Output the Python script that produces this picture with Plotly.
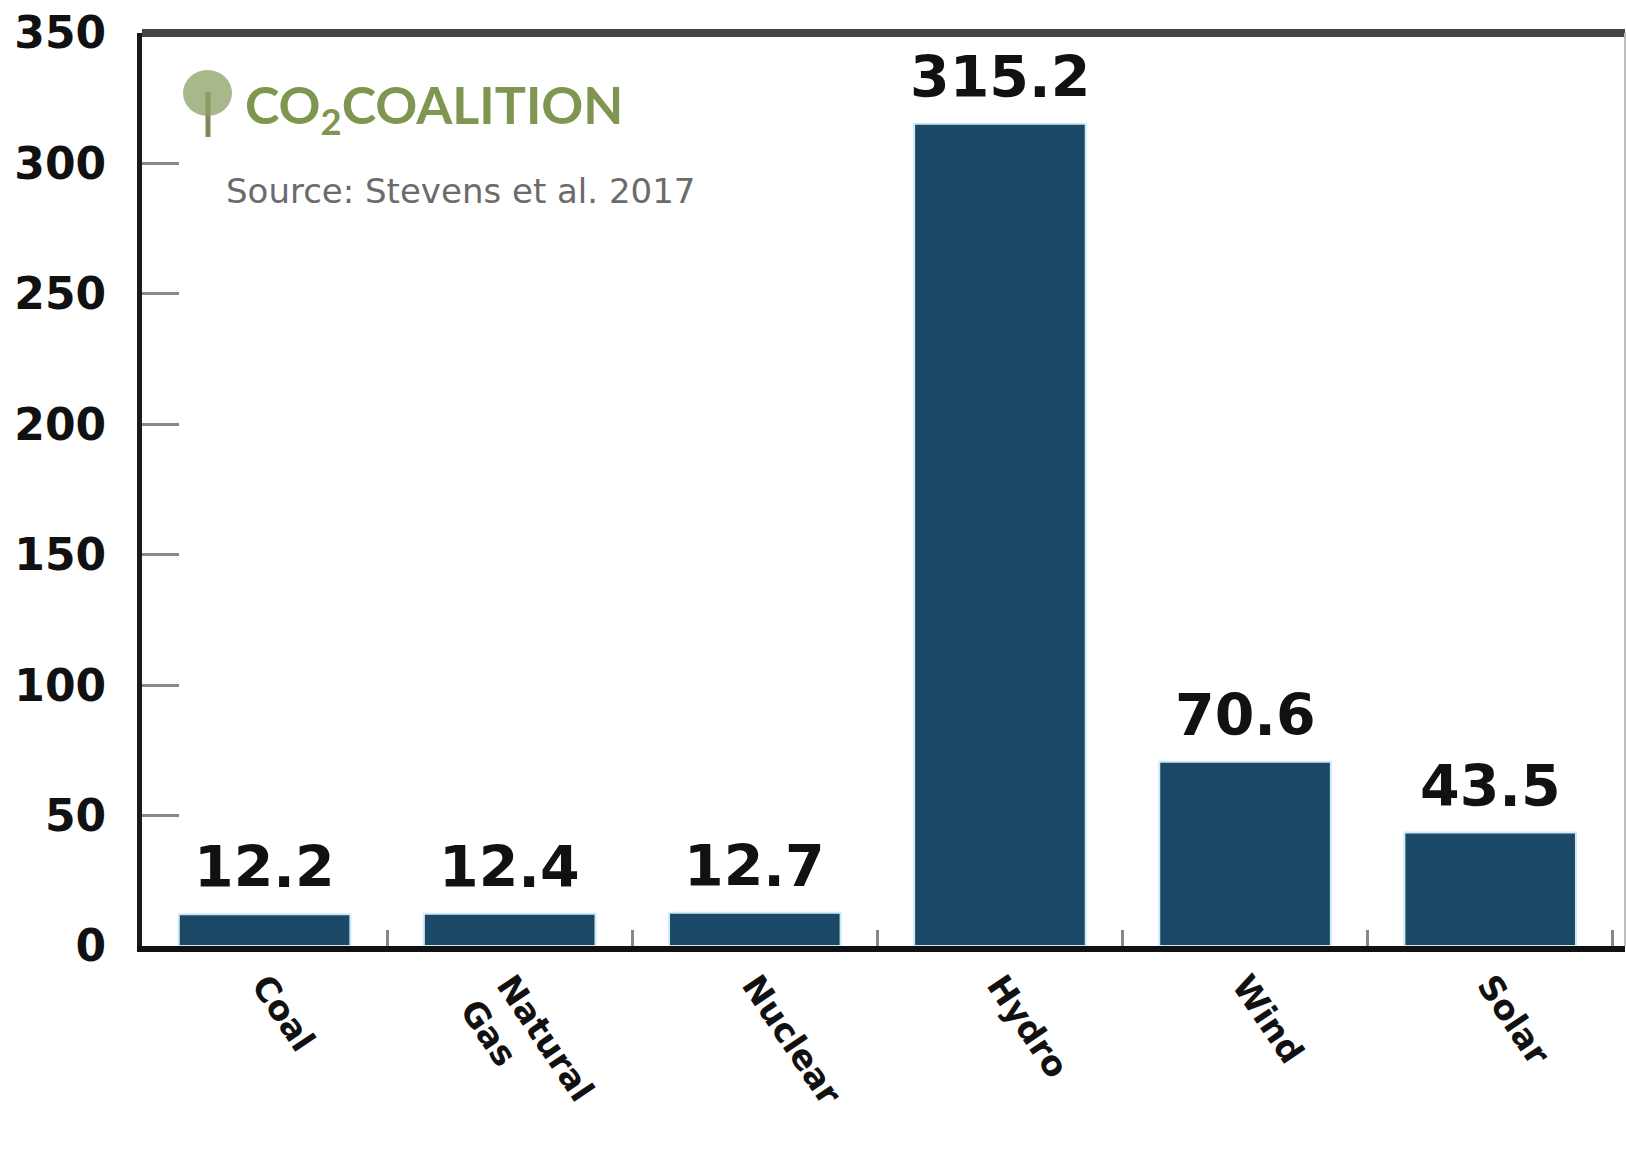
import plotly.graph_objects as go

# ---- data ----
categories = ["Coal", "Natural<br>Gas", "Nuclear", "Hydro", "Wind", "Solar"]
values = [12.2, 12.4, 12.7, 315.2, 70.6, 43.5]
value_labels = ["12.2", "12.4", "12.7", "315.2", "70.6", "43.5"]
y_tickvals = [0, 50, 100, 150, 200, 250, 300, 350]
y_ticktext = ["0", "50", "100", "150", "200", "250", "300", "350"]

W, H = 1626, 1158
ML, MR, MT, MB = 142, 1, 33, 212
PW = W - ML - MR
PH = H - MT - MB


def px_x(px):
    return (px - ML) / PW


def px_y(py):
    return (H - MB - py) / PH


BAR = "#1a4866"

fig = go.Figure()
fig.add_trace(go.Bar(
    x=categories, y=values,
    marker=dict(color=BAR, line=dict(color="#cfe9f6", width=2)),
    hoverinfo="x+y",
))

annotations = []
for c, v, t in zip(categories, values, value_labels):
    annotations.append(dict(
        x=c, y=v, xref="x", yref="y", text=t, showarrow=False,
        yanchor="bottom", xanchor="center", yshift=12,
        font=dict(family="DejaVu Sans", size=57, color="#111111", weight="bold"),
    ))

# logo text and source
annotations.append(dict(
    x=px_x(243), y=px_y(108), xref="paper", yref="paper",
    text="CO<sub>2</sub>COALITION", showarrow=False,
    xanchor="left", yanchor="middle",
    font=dict(family="Lato", size=52, color="#7f9650", weight="bold"),
))
annotations.append(dict(
    x=px_x(224), y=px_y(191), xref="paper", yref="paper",
    text="Source: Stevens et al. 2017", showarrow=False,
    xanchor="left", yanchor="middle",
    font=dict(family="DejaVu Sans", size=34, color="#6b6b6b"),
))

shapes = [
    # top border
    dict(type="line", xref="paper", yref="paper", x0=0, x1=1, y0=px_y(33), y1=px_y(33),
         line=dict(color="#444444", width=8), layer="above"),
    # right border
    dict(type="line", xref="paper", yref="paper", x0=px_x(1625), x1=px_x(1625), y0=0, y1=px_y(33),
         line=dict(color="#bdbdbd", width=2), layer="above"),
    # tree trunk
    dict(type="line", xref="paper", yref="paper", x0=px_x(208), x1=px_x(208), y0=px_y(92), y1=px_y(137),
         line=dict(color="#7d8c5c", width=5)),
    # tree crown
    dict(type="circle", xref="paper", yref="paper", x0=px_x(183), x1=px_x(232), y0=px_y(116), y1=px_y(70),
         fillcolor="rgba(140,160,100,0.75)", line=dict(width=0)),
]

fig.update_layout(
    width=W, height=H,
    margin=dict(l=ML, r=MR, t=MT, b=MB, autoexpand=False),
    paper_bgcolor="white", plot_bgcolor="white",
    bargap=0.3,
    showlegend=False,
    annotations=annotations,
    shapes=shapes,
    xaxis=dict(
        range=[-0.5, 5.55],
        automargin=False,
        showline=True, linecolor="#111111", linewidth=6,
        ticks="inside", tickson="boundaries", ticklen=16, tickwidth=3, tickcolor="#888888",
        tickangle=56,
        tickfont=dict(family="DejaVu Sans", size=34, color="#111111", weight="bold"),
        ticklabelstandoff=0,
        showgrid=False, zeroline=False,
    ),
    yaxis=dict(
        range=[0, 350],
        automargin=False,
        tickvals=y_tickvals, ticktext=y_ticktext,
        showline=True, linecolor="#1a1a1a", linewidth=5,
        ticks="inside", ticklen=37, tickwidth=3, tickcolor="#888888",
        tickfont=dict(family="DejaVu Sans", size=44, color="#111111", weight="bold"),
        ticklabelstandoff=22,
        showgrid=False, zeroline=False,
    ),
)

fig.write_html(
    "out.html",
    config={"displayModeBar": False},
    post_script="document.body.style.margin='0';document.body.style.overflow='hidden';",
)
